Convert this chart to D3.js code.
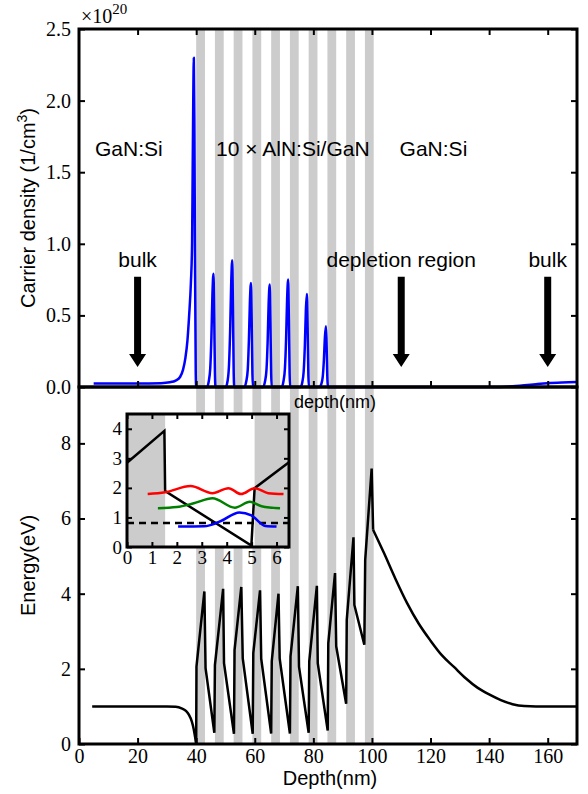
<!DOCTYPE html>
<html>
<head>
<meta charset="utf-8">
<script src="https://d3js.org/d3.v7.min.js"></script>
<style>
    body{ margin: 0; background: #fff; }
    .sans{ font-family: "Liberation Sans", Arial, sans-serif; }
    .tick line{ stroke: #000; stroke-width: 2; }
    .tick text{ fill: #000; }
</style>
</head>
<body>
<div class="graph"></div>
<script>
// AlN:Si barrier layers (nm)
const barrierStarts = [40, 46.4, 52.8, 59.2, 65.6, 72.0, 78.4, 84.8, 91.2, 97.6]
const barrierEnds   = [43, 49.4, 55.8, 62.2, 68.6, 75.0, 81.4, 87.8, 94.2, 100.6]

// carrier density, units of 1e20 cm^-3
const density = [
    [5,0.025],[20,0.025],[28,0.027],[31,0.033],[33,0.045],[34.5,0.07],[35.5,0.12],[36.3,0.2],[37,0.32],
    [37.6,0.5],[38.2,0.73],[38.6,1.0],[38.8,1.5],[39.0,2.0],[39.2,2.3],[39.4,1.8],[39.6,0.9],[39.85,0.1],[40.0,0],
    [43.7,0],[44.3,0.04],[44.8,0.13],[45.2,0.35],[45.55,0.65],[45.9,0.79],[46.15,0.5],[46.4,0.1],[46.6,0],
    [50.1,0],[50.7,0.04],[51.2,0.15],[51.6,0.4],[51.95,0.72],[52.3,0.886],[52.55,0.56],[52.8,0.11],[53.0,0],
    [56.5,0],[57.1,0.04],[57.6,0.12],[58.0,0.33],[58.35,0.6],[58.7,0.727],[58.95,0.46],[59.2,0.09],[59.4,0],
    [62.9,0],[63.5,0.04],[64.0,0.12],[64.4,0.32],[64.75,0.59],[65.1,0.716],[65.35,0.45],[65.6,0.09],[65.8,0],
    [69.2,0],[69.8,0.04],[70.3,0.13],[70.7,0.34],[71.05,0.62],[71.4,0.75],[71.65,0.47],[71.9,0.09],[72.1,0],
    [75.6,0],[76.2,0.03],[76.7,0.11],[77.1,0.29],[77.45,0.54],[77.8,0.65],[78.05,0.41],[78.3,0.08],[78.5,0],
    [82.1,0],[82.7,0.02],[83.2,0.07],[83.6,0.19],[83.95,0.35],[84.3,0.425],[84.55,0.27],[84.8,0.05],[85.0,0],
    [90,0],[142,0],[147,0.004],[152,0.012],[156,0.02],[160,0.027],[165,0.032],[170,0.035]
]

// conduction band energy (eV)
const bandLeft = [
    [4.5,1.0],[30,1.0],[33,0.99],[35,0.95],[36.5,0.88],[37.5,0.78],[38.5,0.6],[39.2,0.38],[39.7,0.15],[40.0,0]
]
const bandSawtooth = [
    [40.0,0],[40.1,2.06],[42.8,4.06],[43.2,2.02],[46.2,0.30],
    [46.4,2.1],[49.2,4.13],[49.5,2.15],[52.9,0.27],
    [53.1,2.5],[55.4,4.18],[55.9,2.28],[59.3,0.27],
    [59.5,2.42],[61.8,4.09],[62.2,2.27],[65.6,0.28],
    [65.8,2.2],[68.1,4.0],[68.5,2.28],[72.0,0.28],
    [72.2,2.33],[74.7,4.2],[75.1,2.06],[78.4,0.30],
    [78.6,2.2],[81.2,4.21],[81.5,2.15],[84.9,0.36],
    [85.1,2.68],[87.4,4.55],[87.8,2.6],[91.2,1.07],
    [91.4,3.3],[93.7,5.5],[94.0,3.7],[97.4,2.64],
    [97.7,4.9],[99.9,7.33],[100.4,5.7]
]
const bandRight = [
    [100.4,5.7],[104,5.1],[108,4.4],[112,3.75],[116,3.2],[120,2.75],[124,2.35],[128,2.05],
    [132,1.75],[136,1.5],[140,1.32],[144,1.17],[148,1.06],[152,1.01],[156,1.0],[170,1.0]
]

// inset: one period
const insetBarriers = [[0,1.53],[5.12,6.5]]
const insetBand = [[0,2.85],[1.5,3.93],[1.53,1.89],[4.99,0.05],[5.12,1.99],[6.5,2.87]]
const insetFermi = 0.81
const insetRed = [[0.83,1.79],[1.53,1.85],[2.55,2.06],[3.43,1.82],[4.07,1.99],[4.58,1.79],[5.12,1.99],[5.67,1.82],[6.28,1.79]]
const insetGreen = [[1.24,1.31],[2.0,1.35],[2.68,1.48],[3.43,1.65],[4.33,1.33],[4.93,1.53],[5.4,1.38],[6.14,1.31]]
const insetBlue = [[2.05,0.69],[3.09,0.70],[3.77,0.88],[4.51,1.17],[4.99,1.07],[5.55,0.71],[6.0,0.69]]

const xTicks = [0, 20, 40, 60, 80, 100, 120, 140, 160]
const densTicks = [0, 0.5, 1.0, 1.5, 2.0, 2.5]
const energyTicks = [0, 2, 4, 6, 8]
const insetXTicks = [0, 1, 2, 3, 4, 5, 6]
const insetYTicks = [0, 1, 2, 3, 4]

const regionLabels = [
    {text: 'GaN:Si', depth: 17},
    {text: '10 \u00d7 AlN:Si/GaN', depth: 73},
    {text: 'GaN:Si', depth: 121}
]
const arrows = [
    {text: 'bulk', depth: 20},
    {text: 'depletion region', depth: 110},
    {text: 'bulk', depth: 160}
]

const serif = '"Liberation Serif", "DejaVu Serif", serif'
const w = 588
const h = 794
const left = 79, right = 577
const topY = 29, midY = 387, botY = 744

const x = d3.scaleLinear().domain([0, 170]).range([left, right])
const yTop = d3.scaleLinear().domain([0, 2.5]).range([midY, topY])
const yBot = d3.scaleLinear().domain([0, 9.5]).range([botY, midY])

const svg = d3.select('.graph').append('svg')
    .attr('width', w)
    .attr('height', h)

// grey barrier bands through both panels
svg.selectAll('.band')
    .data(barrierStarts)
    .enter()
    .append('rect')
    .attr('class', 'band')
    .attr('x', (d, i) => x(d))
    .attr('width', (d, i) => x(barrierEnds[i]) - x(d))
    .attr('y', topY)
    .attr('height', botY - topY)
    .style('fill', '#cccccc')

// top panel curve
const densLine = d3.line()
    .x(d => x(d[0]))
    .y(d => yTop(d[1]))
    .curve(d3.curveMonotoneX)

svg.append('path')
    .datum(density)
    .attr('d', densLine)
    .style('fill', 'none')
    .style('stroke', '#0000ff')
    .style('stroke-width', 2.5)
    .style('stroke-linejoin', 'round')

// bottom panel curve
const bandSmooth = d3.line().x(d => x(d[0])).y(d => yBot(d[1])).curve(d3.curveMonotoneX)
const bandLinear = d3.line().x(d => x(d[0])).y(d => yBot(d[1]))

const bandParts = [[bandLeft, bandSmooth], [bandSawtooth, bandLinear], [bandRight, bandSmooth]]
bandParts.forEach(p => {
    svg.append('path')
        .datum(p[0])
        .attr('d', p[1])
        .style('fill', 'none')
        .style('stroke', '#000')
        .style('stroke-width', 2.5)
})

// axes
function ticks(axis, g, labels, size){
    g.call(axis)
    g.select('.domain').remove()
    g.selectAll('text')
        .style('font-family', serif)
        .style('font-size', size + 'px')
    if(!labels) g.selectAll('text').remove()
}

ticks(d3.axisLeft(yTop).tickValues(densTicks).tickSize(-6).tickPadding(8).tickFormat(d3.format('.1f')),
    svg.append('g').attr('transform', 'translate(' + left + ',0)'), true, 20)
ticks(d3.axisRight(yTop).tickValues(densTicks).tickSize(-6),
    svg.append('g').attr('transform', 'translate(' + right + ',0)'), false, 20)
ticks(d3.axisTop(x).tickValues(xTicks.slice(1)).tickSize(-6),
    svg.append('g').attr('transform', 'translate(0,' + topY + ')'), false, 20)
ticks(d3.axisBottom(x).tickValues(xTicks.slice(1)).tickSize(-6),
    svg.append('g').attr('transform', 'translate(0,' + midY + ')'), false, 20)

ticks(d3.axisLeft(yBot).tickValues(energyTicks).tickSize(-6).tickPadding(8).tickFormat(d3.format('d')),
    svg.append('g').attr('transform', 'translate(' + left + ',0)'), true, 20)
ticks(d3.axisRight(yBot).tickValues(energyTicks).tickSize(-6),
    svg.append('g').attr('transform', 'translate(' + right + ',0)'), false, 20)
ticks(d3.axisBottom(x).tickValues(xTicks).tickSize(-6).tickPadding(5).tickFormat(d3.format('d')),
    svg.append('g').attr('transform', 'translate(0,' + botY + ')'), true, 20)

// frames
svg.append('rect')
    .attr('x', left).attr('y', topY)
    .attr('width', right - left).attr('height', midY - topY)
    .style('fill', 'none').style('stroke', '#000').style('stroke-width', 3)
svg.append('rect')
    .attr('x', left).attr('y', midY)
    .attr('width', right - left).attr('height', botY - midY)
    .style('fill', 'none').style('stroke', '#000').style('stroke-width', 3)

// multiplier
const mult = svg.append('text')
    .attr('x', 81).attr('y', 23)
    .style('font-family', serif).style('font-size', '20px')
mult.append('tspan').text('\u00d710')
mult.append('tspan').attr('dy', -9).style('font-size', '15px').text('20')

// axis labels
svg.append('text').attr('class', 'sans')
    .attr('transform', 'translate(35,' + ((topY + midY) / 2) + ') rotate(-90)')
    .style('text-anchor', 'middle').style('font-size', '20px')
    .call(t => {
        t.append('tspan').text('Carrier density (1/cm')
        t.append('tspan').attr('dy', -8).style('font-size', '14px').text('3')
        t.append('tspan').attr('dy', 8).text(')')
    })
svg.append('text').attr('class', 'sans')
    .attr('transform', 'translate(35,' + ((midY + botY) / 2) + ') rotate(-90)')
    .style('text-anchor', 'middle').style('font-size', '20px')
    .text('Energy(eV)')
svg.append('text').attr('class', 'sans')
    .attr('x', (left + right) / 2 + 2).attr('y', 785)
    .style('text-anchor', 'middle').style('font-size', '20px')
    .text('Depth(nm)')
svg.append('text').attr('class', 'sans')
    .attr('x', 335).attr('y', 408)
    .style('text-anchor', 'middle').style('font-size', '18px')
    .text('depth(nm)')

// region labels
svg.selectAll('.region')
    .data(regionLabels)
    .enter()
    .append('text')
    .attr('class', 'sans')
    .attr('x', d => x(d.depth))
    .attr('y', yTop(1.61))
    .style('text-anchor', 'middle')
    .style('font-size', '21px')
    .text(d => d.text)

// arrows
const arrow = svg.selectAll('.arrow')
    .data(arrows)
    .enter()
    .append('g')

arrow.append('text')
    .attr('class', 'sans')
    .attr('x', d => x(d.depth))
    .attr('y', yTop(0.84))
    .style('text-anchor', 'middle')
    .style('font-size', '21px')
    .text(d => d.text)

arrow.append('path')
    .attr('d', d => {
        const cx = x(d.depth)
        const y0 = yTop(0.77)
        const y1 = yTop(0.14)
        const hh = 13
        return 'M' + (cx - 3.5) + ',' + y0 + 'H' + (cx + 3.5) + 'V' + (y1 - hh) +
            'H' + (cx + 8.5) + 'L' + cx + ',' + y1 + 'L' + (cx - 8.5) + ',' + (y1 - hh) +
            'H' + (cx - 3.5) + 'Z'
    })
    .style('fill', '#000')

// inset
const ix = d3.scaleLinear().domain([0, 6.5]).range([127, 289])
const iy = d3.scaleLinear().domain([0, 4.5]).range([547, 414])
const inset = svg.append('g')

inset.append('rect')
    .attr('x', 127).attr('y', 414).attr('width', 162).attr('height', 133)
    .style('fill', '#fff')
inset.selectAll('.iband')
    .data(insetBarriers)
    .enter()
    .append('rect')
    .attr('x', d => ix(d[0]))
    .attr('width', d => ix(d[1]) - ix(d[0]))
    .attr('y', 414).attr('height', 133)
    .style('fill', '#cccccc')

const iline = d3.line().x(d => ix(d[0])).y(d => iy(d[1]))
const isoft = d3.line().x(d => ix(d[0])).y(d => iy(d[1])).curve(d3.curveMonotoneX)

inset.append('line')
    .attr('x1', ix(0)).attr('x2', ix(6.5))
    .attr('y1', iy(insetFermi)).attr('y2', iy(insetFermi))
    .style('stroke', '#000').style('stroke-width', 2.5).style('stroke-dasharray', '7,5')
inset.append('path').datum(insetBand).attr('d', iline)
    .style('fill', 'none').style('stroke', '#000').style('stroke-width', 2.5)
const states = [[insetRed, '#ff0000'], [insetGreen, '#008000'], [insetBlue, '#0000ff']]
states.forEach(s => {
    inset.append('path').datum(s[0]).attr('d', isoft)
        .style('fill', 'none').style('stroke', s[1]).style('stroke-width', 2.5)
})

ticks(d3.axisBottom(ix).tickValues(insetXTicks).tickSize(-5).tickPadding(3).tickFormat(d3.format('d')),
    inset.append('g').attr('transform', 'translate(0,547)'), true, 19)
ticks(d3.axisTop(ix).tickValues(insetXTicks).tickSize(-5),
    inset.append('g').attr('transform', 'translate(0,414)'), false, 19)
ticks(d3.axisLeft(iy).tickValues(insetYTicks).tickSize(-5).tickPadding(5).tickFormat(d3.format('d')),
    inset.append('g').attr('transform', 'translate(127,0)'), true, 19)
ticks(d3.axisRight(iy).tickValues(insetYTicks).tickSize(-5),
    inset.append('g').attr('transform', 'translate(289,0)'), false, 19)

inset.append('rect')
    .attr('x', 127).attr('y', 414).attr('width', 162).attr('height', 133)
    .style('fill', 'none').style('stroke', '#000').style('stroke-width', 3)
</script>
</body>
</html>
